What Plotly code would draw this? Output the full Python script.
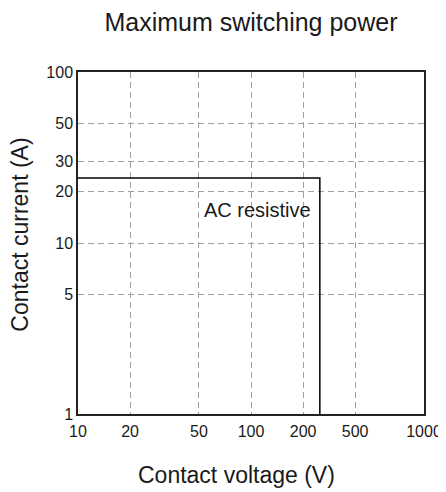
import math
import plotly.graph_objects as go

# Data
voltage = [10, 250, 250]          # V
current = [24, 24, 1]             # A
x_tick_vals = [10, 20, 50, 100, 200, 400, 1000]
x_tick_text = ["10", "20", "50", "100", "200", "500", "1000"]
y_tick_vals = [1, 5, 10, 20, 30, 50, 100]
y_tick_text = ["1", "5", "10", "20", "30", "50", "100"]
label_text = "AC resistive"
x_title = "Contact voltage (V)"
y_title = "Contact current (A)"

FONT = "Liberation Sans, Arial, sans-serif"
TXT = "#1a1a1a"

fig = go.Figure()
fig.add_trace(go.Scatter(
    x=voltage, y=current, mode="lines",
    line=dict(color="black", width=1.5),
    showlegend=False, hoverinfo="skip",
))

fig.add_annotation(
    x=math.log10(52), y=math.log10(15.6), xref="x", yref="y",
    text=label_text, showarrow=False, xanchor="left", yanchor="middle",
    font=dict(family=FONT, size=20, color=TXT),
)
# axis titles
fig.add_annotation(
    x=0.457, y=-0.178, xref="paper", yref="paper",
    text=x_title, showarrow=False, xanchor="center", yanchor="middle",
    font=dict(family=FONT, size=23, color=TXT),
)
fig.add_annotation(
    x=-0.166, y=0.523, xref="paper", yref="paper", textangle=-90,
    text=y_title, showarrow=False, xanchor="center", yanchor="middle",
    font=dict(family=FONT, size=23, color=TXT),
)

grid = dict(showgrid=True, gridcolor="#a0a0a0", gridwidth=1, griddash="6px,4px",
            showline=True, linecolor="#222", linewidth=1.5, mirror=True,
            ticks="", zeroline=False, automargin=False,
            tickfont=dict(family=FONT, size=16, color=TXT))

fig.update_xaxes(type="log", range=[1, 3], tickmode="array",
                 tickvals=x_tick_vals, ticktext=x_tick_text, ticklabelstandoff=2,
                 **grid)
fig.update_yaxes(type="log", range=[0, 2], tickmode="array",
                 tickvals=y_tick_vals, ticktext=y_tick_text,
                 **grid)

# page body adds an 8px offset; figure sized to fit the 446x492 window
fig.update_layout(
    width=438, height=484,
    margin=dict(l=70, r=22, t=64, b=78, autoexpand=False),
    paper_bgcolor="white", plot_bgcolor="white",
    title=dict(text="Maximum switching power", x=0.5, xref="paper",
               y=1 - 5 / 484, yref="container", yanchor="top",
               font=dict(family=FONT, size=25, color=TXT)),
)

fig.write_html("out.html")
